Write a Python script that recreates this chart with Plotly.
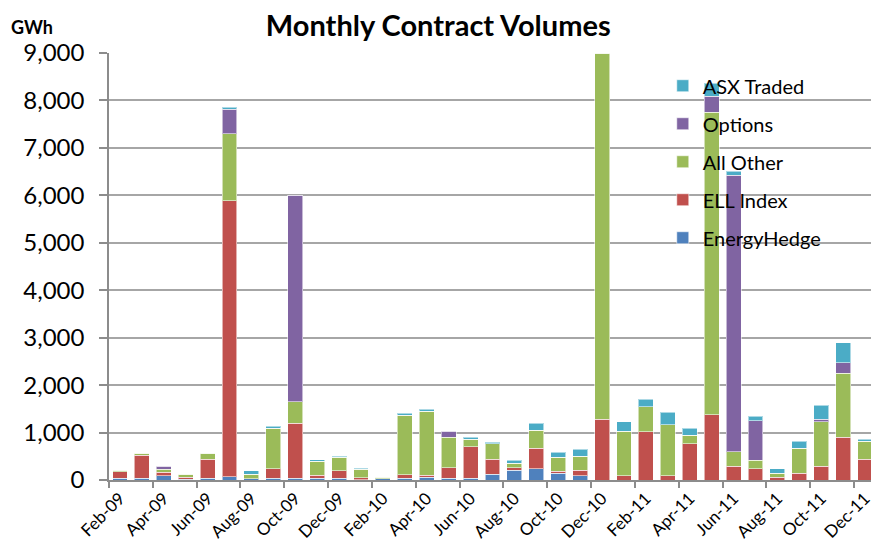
import plotly.graph_objects as go

# months Feb-09 .. Dec-11
months = ['Feb-09', 'Mar-09', 'Apr-09', 'May-09', 'Jun-09', 'Jul-09', 'Aug-09', 'Sep-09',
          'Oct-09', 'Nov-09', 'Dec-09', 'Jan-10', 'Feb-10', 'Mar-10', 'Apr-10', 'May-10',
          'Jun-10', 'Jul-10', 'Aug-10', 'Sep-10', 'Oct-10', 'Nov-10', 'Dec-10', 'Jan-11',
          'Feb-11', 'Mar-11', 'Apr-11', 'May-11', 'Jun-11', 'Jul-11', 'Aug-11', 'Sep-11',
          'Oct-11', 'Nov-11', 'Dec-11']

# GWh per product
energy_hedge = [35, 35, 90, 20, 35, 70, 25, 40, 40, 40, 35, 10, 28, 35, 56, 35,
                35, 119, 210, 239, 147, 91, 0, 0, 0, 0, 0, 0, 0, 0, 0, 0, 0, 0, 0]
ell_index = [140, 485, 77, 35, 400, 5817, 0, 200, 1160, 56, 160, 40, 0, 77, 49, 225,
             667, 316, 49, 428, 42, 112, 1284, 91, 1018, 91, 765, 1375, 294, 239, 56, 147,
             295, 900, 436]
all_other = [35, 40, 56, 63, 126, 1413, 95, 850, 445, 297, 280, 180, 35, 1256, 1347, 645,
             161, 330, 91, 379, 288, 295, 7716, 941, 526, 1074, 182, 6378, 302, 182, 91, 519,
             935, 1350, 386]
options = [0, 0, 70, 0, 0, 510, 0, 0, 4355, 0, 0, 0, 0, 0, 0, 120,
           0, 0, 0, 0, 0, 0, 0, 0, 0, 0, 0, 339, 5823, 828, 0, 0,
           50, 223, 0]
asx_traded = [0, 0, 0, 0, 0, 50, 70, 40, 0, 30, 28, 20, 0, 35, 35, 0,
              35, 28, 63, 147, 112, 147, 0, 197, 154, 267, 140, 268, 85, 98, 91, 154,
              295, 422, 36]

x = list(range(len(months)))
label_idx = x[::2]

series = [
    ('EnergyHedge', energy_hedge, '#4F81BD'),
    ('ELL Index', ell_index, '#C0504D'),
    ('All Other', all_other, '#9BBB59'),
    ('Options', options, '#8064A2'),
    ('ASX Traded', asx_traded, '#4BACC6'),
]

FONT = 'Lato, Noto Sans, sans-serif'

fig = go.Figure()
for k, (name, vals, col) in enumerate(series):
    fig.add_trace(go.Bar(
        x=x, y=vals, name=name, legendgroup=name, legendrank=100 - k,
        marker=dict(color=col, line=dict(color='rgba(255,255,255,0.55)', width=1)),
        customdata=months,
        hovertemplate='%{customdata}<br>' + name + ': %{y:,} GWh<extra></extra>',
    ))

# the page body adds an 8px offset, so the figure is sized 8px smaller
fig.update_layout(
    barmode='stack',
    bargap=0.32,
    width=871, height=545,
    margin=dict(l=101, r=3, t=45, b=73, autoexpand=False),
    plot_bgcolor='white',
    paper_bgcolor='white',
    font=dict(family=FONT, color='black'),
    title=dict(text='<b>Monthly Contract Volumes</b>', x=0.494, xref='container', xanchor='center',
               y=0.967, yref='container', yanchor='middle',
               font=dict(family=FONT, size=29, color='black')),
    legend=dict(x=0.722, y=0.969, xanchor='left', yanchor='top', traceorder='grouped',
                tracegroupgap=9, bgcolor='rgba(0,0,0,0)', itemwidth=30,
                font=dict(family=FONT, size=20, color='black')),
    showlegend=True,
)

fig.update_xaxes(
    range=[-0.5, len(months) - 0.5], automargin=False,
    tickmode='array', tickvals=label_idx, ticktext=[months[i] for i in label_idx],
    tickangle=-45, ticks='', showgrid=False,
    tickfont=dict(family=FONT, size=17, color='black'),
    showline=True, linecolor='#8c8c8c', linewidth=1.5,
    minor=dict(tickmode='array', tickvals=[i - 0.5 for i in label_idx],
               ticks='outside', ticklen=6, tickcolor='#8c8c8c', tickwidth=1.5, showgrid=False),
)
fig.update_yaxes(
    range=[0, 9000], dtick=1000, tickformat=',', automargin=False,
    showgrid=True, gridcolor='#a6a6a6', gridwidth=1.5,
    showline=True, linecolor='#8c8c8c', linewidth=1.5,
    ticks='outside', ticklen=8, tickcolor='#8c8c8c', tickwidth=1.5,
    ticklabelstandoff=10,
    tickfont=dict(family=FONT, size=24, color='black'),
    zeroline=False,
)

fig.add_annotation(text='<b>GWh</b>', xref='paper', yref='paper', x=-0.131, y=1.061,
                   xanchor='left', yanchor='middle', showarrow=False,
                   font=dict(family=FONT, size=18, color='black'))

fig.write_html('out.html')
